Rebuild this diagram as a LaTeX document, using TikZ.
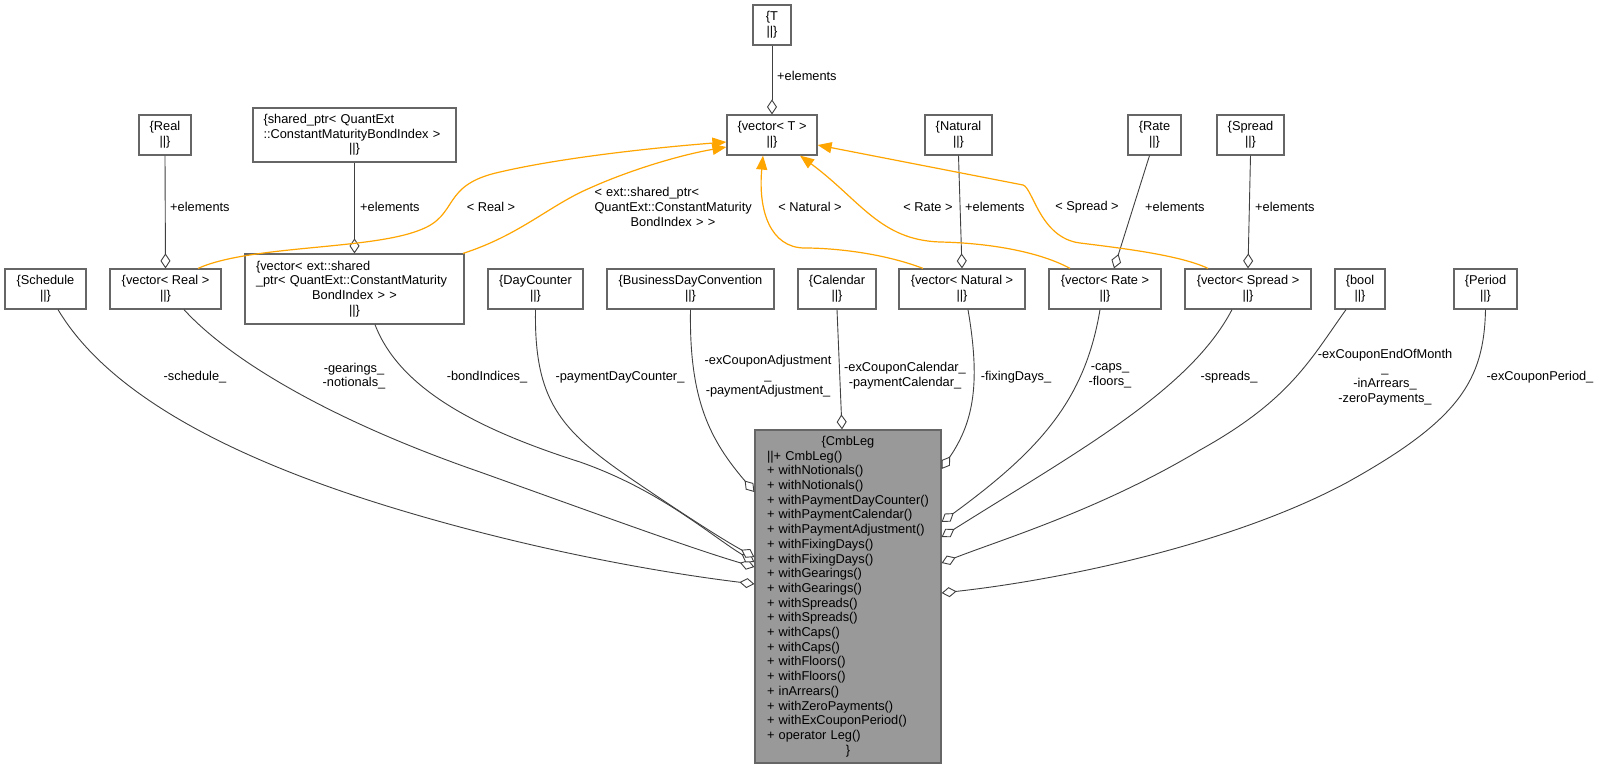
\documentclass[tikz,border=0pt]{standalone}
\usepackage{fontspec}
\setmainfont{Liberation Sans}
\usepackage{xcolor}
\usepackage{tikz}
\usetikzlibrary{arrows.meta}
\definecolor{edgegray}{HTML}{404040}
\definecolor{boxgray}{HTML}{666666}
\definecolor{maingray}{HTML}{999999}
\definecolor{tmplorange}{HTML}{FFA500}

\begin{document}
\begin{tikzpicture}[x=1pt,y=-1pt,
  every node/.append style={font=\fontsize{12.8}{14.7}\selectfont},
  cls/.style={draw=boxgray,line width=1.2pt,fill=white,minimum height=40pt,inner sep=0pt,align=center},
  lbl/.style={inner sep=0pt,align=center},
  agg/.style={draw=edgegray,line width=0.9pt,-{Diamond[length=15pt,width=10pt,fill=white]}},
  tmpl/.style={draw=tmplorange,line width=1.2pt,-{Triangle[length=14pt,width=11pt]}}]
  \fill[white] (0,0) rectangle (1599,769);
  \useasboundingbox (0,0) rectangle (1599,769);

  % Template parameters (top row)
  \node[cls,minimum width=38pt] (tpar) at (772,25) {\{T\\||\}};
  \node[cls,minimum width=90pt] (vect) at (772,135) {\{vector< T >\\||\}};
  \node[cls,minimum width=52pt] (real) at (165,135) {\{Real\\||\}};
  \node[cls,minimum width=203pt,minimum height=54pt,text width=182pt,inner xsep=10.5pt,align=left] (sptr) at (354.5,135)
    {\{shared\_ptr< QuantExt\\::ConstantMaturityBondIndex >\par{\centering ||\}\par}};
  \node[cls,minimum width=67pt] (nat) at (958.5,135) {\{Natural\\||\}};
  \node[cls,minimum width=53pt] (rate) at (1154.5,135) {\{Rate\\||\}};
  \node[cls,minimum width=67pt] (spread) at (1250.5,135) {\{Spread\\||\}};

  % Member types (middle row)
  \node[cls,minimum width=81pt] (sched) at (45.5,289) {\{Schedule\\||\}};
  \node[cls,minimum width=111pt] (vreal) at (165.5,289) {\{vector< Real >\\||\}};
  \node[cls,minimum width=219pt,minimum height=70pt,text width=197pt,inner xsep=11pt,align=left] (vext) at (354.5,289)
    {\{vector< ext::shared\\\_ptr< QuantExt::ConstantMaturity\par
     {\centering BondIndex > >\par}{\centering ||\}\par}};
  \node[cls,minimum width=95pt] (dayc) at (535.5,289) {\{DayCounter\\||\}};
  \node[cls,minimum width=167pt] (bdc) at (690.5,289) {\{BusinessDayConvention\\||\}};
  \node[cls,minimum width=78pt] (cal) at (837,289) {\{Calendar\\||\}};
  \node[cls,minimum width=126pt] (vnat) at (962,289) {\{vector< Natural >\\||\}};
  \node[cls,minimum width=112pt] (vrate) at (1105,289) {\{vector< Rate >\\||\}};
  \node[cls,minimum width=126pt] (vspread) at (1248,289) {\{vector< Spread >\\||\}};
  \node[cls,minimum width=50pt] (vbool) at (1360,289) {\{bool\\||\}};
  \node[cls,minimum width=63pt] (period) at (1485.5,289) {\{Period\\||\}};

  % The class itself
  \node[draw=boxgray,line width=1.2pt,fill=maingray,minimum width=186pt,minimum height=333pt,
        text width=162pt,inner xsep=12pt,inner ysep=0pt,align=left] (cmb) at (848,596.5)
    {{\centering\{CmbLeg\par}||+ CmbLeg()\\+ withNotionals()\\+ withNotionals()\\
     + withPaymentDayCounter()\\+ withPaymentCalendar()\\+ withPaymentAdjustment()\\
     + withFixingDays()\\+ withFixingDays()\\+ withGearings()\\+ withGearings()\\
     + withSpreads()\\+ withSpreads()\\+ withCaps()\\+ withCaps()\\+ withFloors()\\
     + withFloors()\\+ inArrears()\\+ withZeroPayments()\\+ withExCouponPeriod()\\
     + operator Leg()\par{\centering\}\par}};

  % Element aggregations
  \draw[agg] (tpar.south) -- (vect.north);
  \draw[agg] (real.south) -- (vreal.north);
  \draw[agg] (sptr.south) -- (vext.north);
  \draw[agg] (nat.south) -- (vnat.north);
  \draw[agg] ([xshift=-5pt]rate.south) -- ([xshift=9pt]vrate.north);
  \draw[agg] (spread.south) -- (vspread.north);
  \node[lbl,anchor=west] at (777,76) {+elements};
  \node[lbl,anchor=west] at (170,207) {+elements};
  \node[lbl,anchor=west] at (360,207) {+elements};
  \node[lbl,anchor=west] at (965,207) {+elements};
  \node[lbl,anchor=west] at (1145,207) {+elements};
  \node[lbl,anchor=west] at (1255,207) {+elements};

  % Template instances
  \draw[tmpl] ([xshift=32.5pt]vreal.north) .. controls (250,245) and (370,250) .. (420,230)
    .. controls (460,215) and (440,185) .. (500,172) .. controls (560,158) and (650,148) .. (vect.west |- 0,142);
  \draw[tmpl] ([xshift=108.5pt]vext.north) .. controls (520,235) and (550,205) .. (590,188)
    .. controls (630,170) and (680,155) .. (vect.west |- 0,147);
  \draw[tmpl] ([xshift=-39pt]vnat.north) .. controls (880,252) and (830,248) .. (805,248)
    .. controls (770,248) and (758,210) .. ([xshift=-9pt]vect.south);
  \draw[tmpl] ([xshift=-35pt]vrate.north) .. controls (1040,252) and (990,243) .. (940,242)
    .. controls (880,240) and (860,200) .. ([xshift=28pt]vect.south);
  \draw[tmpl] ([xshift=-40pt]vspread.north) .. controls (1180,255) and (1120,248) .. (1080,243)
    .. controls (1040,238) and (1033,188) .. (1023,185) -- (vect.east |- 0,145);
  \node[lbl] at (491,207) {< Real >};
  \node[lbl,text width=157pt,align=left] at (673,207)
    {< ext::shared\_ptr<\\QuantExt::ConstantMaturity\par{\centering BondIndex > >\par}};
  \node[lbl] at (810,207) {< Natural >};
  \node[lbl] at (928,207) {< Rate >};
  \node[lbl] at (1087,207) {< Spread >};

  % Members of CmbLeg
  \draw[agg] ([xshift=12.5pt]sched.south) .. controls (100,380) and (200,450) .. (400,510)
    .. controls (550,555) and (680,575) .. (cmb.west |- 0,584);
  \draw[agg] ([xshift=18.5pt]vreal.south) .. controls (230,360) and (330,420) .. (480,472)
    .. controls (600,515) and (690,548) .. (cmb.west |- 0,567);
  \draw[agg] ([xshift=20.5pt]vext.south) .. controls (400,390) and (480,430) .. (580,462)
    .. controls (660,490) and (710,535) .. (cmb.west |- 0,562);
  \draw[agg] (dayc.south) .. controls (534,400) and (560,430) .. (630,478)
    .. controls (680,512) and (720,538) .. (cmb.west |- 0,557);
  \draw[agg] (bdc.south) .. controls (689,400) and (710,440) .. (cmb.west |- 0,492);
  \draw[agg] (cal.south) -- ([xshift=-6pt]cmb.north);
  \draw[agg] ([xshift=6pt]vnat.south) .. controls (980,380) and (975,420) .. (cmb.east |- 0,469);
  \draw[agg] ([xshift=-5pt]vrate.south) .. controls (1085,400) and (1040,450) .. (cmb.east |- 0,522);
  \draw[agg] ([xshift=-16pt]vspread.south) .. controls (1190,390) and (1080,450) .. (cmb.east |- 0,537);
  \draw[agg] ([xshift=-14pt]vbool.south) .. controls (1310,360) and (1290,400) .. (1200,450)
    .. controls (1100,510) and (1000,540) .. (cmb.east |- 0,563);
  \draw[agg] (period.south) .. controls (1484,380) and (1460,420) .. (1346,483)
    .. controls (1230,545) and (1060,580) .. (cmb.east |- 0,593);

  % Member labels
  \node[lbl] at (195,377) {-schedule\_};
  \node[lbl] at (354,376) {-gearings\_\\-notionals\_};
  \node[lbl] at (487,377) {-bondIndices\_};
  \node[lbl] at (620,377) {-paymentDayCounter\_};
  \node[lbl] at (768,376) {-exCouponAdjustment\\\_\\-paymentAdjustment\_};
  \node[lbl] at (905,376) {-exCouponCalendar\_\\-paymentCalendar\_};
  \node[lbl] at (1016,377) {-fixingDays\_};
  \node[lbl] at (1110,376) {-caps\_\\-floors\_};
  \node[lbl] at (1229,377) {-spreads\_};
  \node[lbl] at (1385,377) {-exCouponEndOfMonth\\\_\\-inArrears\_\\-zeroPayments\_};
  \node[lbl] at (1540,377) {-exCouponPeriod\_};

\end{tikzpicture}
\end{document}
